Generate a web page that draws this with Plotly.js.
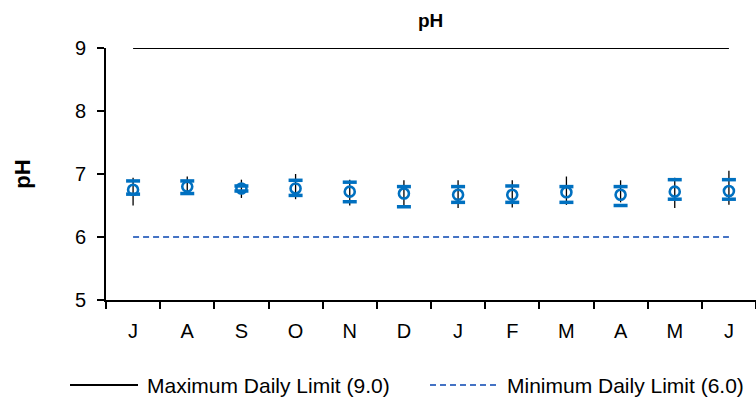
<!DOCTYPE html>
<html>
<head>
<meta charset="utf-8">
<script src="https://cdn.plot.ly/plotly-3.0.1.min.js"></script>
<style>html,body{margin:0;padding:0;background:#fff;}#chart{width:756px;height:407px;}</style>
</head>
<body>
<div id="chart"></div>
<script>
// Month labels (July through June)
const months = ["J","A","S","O","N","D","J","F","M","A","M","J"];
const monthIndex = [1,2,3,4,5,6,7,8,9,10,11,12];
// Mean pH per month (open circles)
const phMean = [6.75, 6.80, 6.77, 6.77, 6.72, 6.69, 6.67, 6.67, 6.71, 6.67, 6.72, 6.73];
// Upper and lower blue markers
const phUpper = [6.89, 6.89, 6.81, 6.90, 6.87, 6.80, 6.80, 6.81, 6.80, 6.80, 6.91, 6.91];
const phLower = [6.68, 6.69, 6.73, 6.66, 6.56, 6.48, 6.55, 6.55, 6.55, 6.50, 6.60, 6.60];
// Monthly max and min (black range lines)
const phMax = [6.94, 6.96, 6.91, 7.00, 6.91, 6.90, 6.90, 6.90, 6.96, 6.90, 6.94, 7.05];
const phMin = [6.50, 6.69, 6.62, 6.60, 6.50, 6.46, 6.46, 6.47, 6.51, 6.55, 6.46, 6.51];
// Permit limits
const maxLimit = 9.0;
const minLimit = 6.0;
const yTicks = [5, 6, 7, 8, 9];
const boundaries = [0.5,1.5,2.5,3.5,4.5,5.5,6.5,7.5,8.5,9.5,10.5,11.5,12.5];

const FONT = "Liberation Sans, Arial, sans-serif";
const BLUE = "#0070C0";
const DASHBLUE = "#4472C4";

const traces = [
  {
    x: monthIndex, y: monthIndex.map(() => maxLimit),
    mode: "lines", line: {color: "#000000", width: 1.8},
    showlegend: false, hoverinfo: "skip"
  },
  {
    x: monthIndex, y: monthIndex.map(() => minLimit),
    mode: "lines", line: {color: DASHBLUE, width: 1.8, dash: "6px,4px"},
    showlegend: false, hoverinfo: "skip"
  },
  {
    x: monthIndex, y: phMean,
    mode: "markers", marker: {size: 1, color: "rgba(0,0,0,0)"},
    error_y: {
      type: "data", symmetric: false,
      array: phMax.map((v, i) => v - phMean[i]),
      arrayminus: phMin.map((v, i) => phMean[i] - v),
      color: "#000000", thickness: 1.3, width: 0
    },
    showlegend: false, hoverinfo: "skip"
  },
  {
    x: monthIndex, y: phUpper,
    mode: "markers",
    marker: {symbol: "line-ew", size: 10, color: BLUE, line: {color: BLUE, width: 3.5}},
    showlegend: false
  },
  {
    x: monthIndex, y: phLower,
    mode: "markers",
    marker: {symbol: "line-ew", size: 10, color: BLUE, line: {color: BLUE, width: 3.5}},
    showlegend: false
  },
  {
    x: monthIndex, y: phMean,
    mode: "markers",
    marker: {symbol: "circle-open", size: 10, color: BLUE, line: {color: BLUE, width: 2.6}},
    showlegend: false
  }
];

const L = 106, T = 48, W = 650, H = 252;
function px(x) { return (x - L) / W; }
function py(y) { return (T + H - y) / H; }
const legY = 385;

const layout = {
  width: 756, height: 407,
  margin: {l: L, r: 0, t: T, b: 407 - T - H, pad: 0},
  paper_bgcolor: "#ffffff", plot_bgcolor: "#ffffff",
  font: {family: FONT, color: "#000000", size: 20},
  title: {text: "<b>pH</b>", font: {family: FONT, size: 19, color: "#000"}, x: 0.5695, xanchor: "center", y: 0.95, yanchor: "middle"},
  showlegend: false,
  xaxis: {
    range: [0.5, 12.5], tickmode: "array", tickvals: monthIndex, ticktext: months,
    ticks: "", showgrid: false, zeroline: false,
    showline: true, linecolor: "#000", linewidth: 2,
    ticklabelstandoff: 12,
    tickfont: {family: FONT, size: 20, color: "#000"},
    minor: {tickmode: "array", tickvals: boundaries, ticks: "outside", ticklen: 7, tickwidth: 2, tickcolor: "#000", showgrid: false}
  },
  yaxis: {
    range: [5, 9], tickmode: "array", tickvals: yTicks,
    ticks: "outside", ticklen: 7, tickwidth: 2, tickcolor: "#000",
    showgrid: false, zeroline: false,
    showline: true, linecolor: "#000", linewidth: 2,
    ticklabelstandoff: 7,
    tickfont: {family: FONT, size: 20, color: "#000"},
    title: {text: "<b>pH</b>", font: {family: FONT, size: 22, color: "#000"}, standoff: 38}
  },
  shapes: [
    {type: "line", xref: "paper", yref: "paper", x0: px(70), x1: px(138), y0: py(legY), y1: py(legY), line: {color: "#000", width: 2}},
    {type: "line", xref: "paper", yref: "paper", x0: px(430), x1: px(500), y0: py(legY), y1: py(legY), line: {color: DASHBLUE, width: 1.8, dash: "6px,4px"}}
  ],
  annotations: [
    {text: "Maximum Daily Limit (9.0)", xref: "paper", yref: "paper", x: px(145), y: py(legY), xanchor: "left", yanchor: "middle", showarrow: false, font: {family: FONT, size: 21, color: "#000"}},
    {text: "Minimum Daily Limit (6.0)", xref: "paper", yref: "paper", x: px(505), y: py(legY), xanchor: "left", yanchor: "middle", showarrow: false, font: {family: FONT, size: 21, color: "#000"}}
  ]
};

Plotly.newPlot("chart", traces, layout, {displayModeBar: false, staticPlot: true});
</script>
</body>
</html>
